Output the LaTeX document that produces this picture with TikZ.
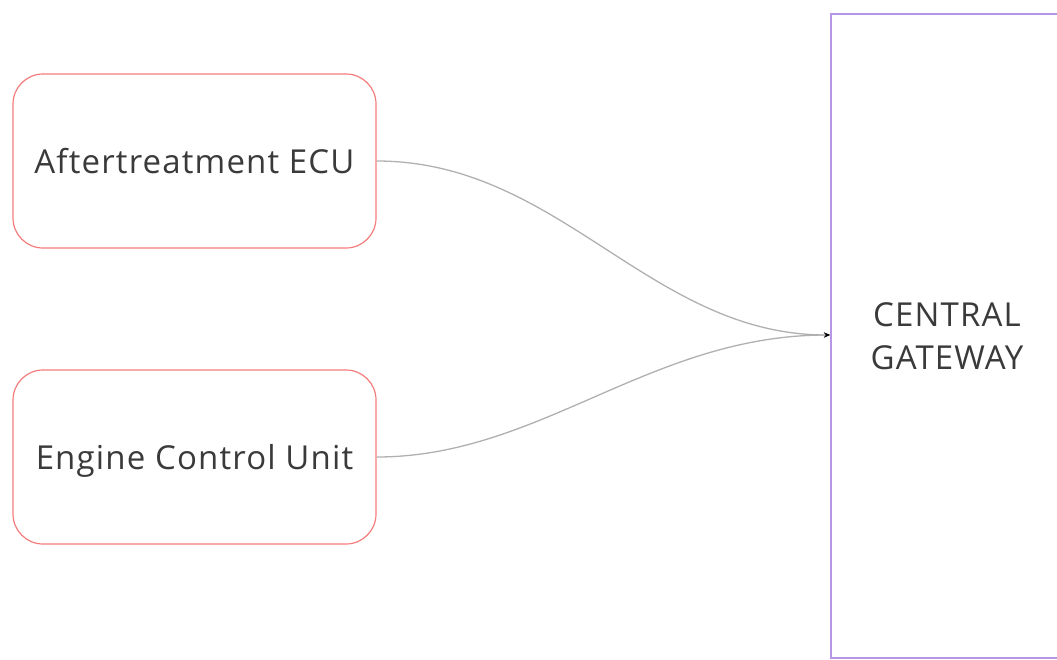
\documentclass[tikz,border=0pt]{standalone}
\usepackage{fontspec}
\setmainfont{Open Sans}[LetterSpace=3.5]
\usetikzlibrary{arrows.meta}
\definecolor{boxred}{HTML}{F47C7C}
\definecolor{gwpurple}{HTML}{B896E6}
\definecolor{txt}{HTML}{3A3A3A}
\definecolor{edge}{HTML}{B0B0B0}
\tikzset{
  ecubox/.style={draw=boxred, line width=1.2pt, rounded corners=30pt, minimum width=363pt, minimum height=174pt, inner sep=0pt, text=txt, text height=24pt, text depth=0pt, font=\fontsize{33}{38}\selectfont},
  gwbox/.style={draw=gwpurple, line width=1.8pt, minimum width=235pt, minimum height=644pt, inner sep=0pt},
  gwtext/.style={text=txt, font=\fontsize{33}{43}\selectfont, align=center},
  link/.style={draw=edge, line width=1.3pt, -{Stealth[length=6pt,width=5pt,black]}}
}
\begin{document}
\begin{tikzpicture}[x=1pt,y=-1pt]
\useasboundingbox (0,0) rectangle (1057,659);
\node[ecubox] (atecu) at (194.5,161) {Aftertreatment ECU};
\node[ecubox] (ecu) at (194.5,457) {Engine Control Unit};
\node[gwbox, anchor=north west] (gw) at (830,13) {};
\node[gwtext] (gwlabel) at (947,336) {CENTRAL\\GATEWAY};
\coordinate (gwin) at (830,335);
\draw[link] (atecu.east) .. controls (560,161) and (650,335) .. (gwin);
\draw[link] (ecu.east) .. controls (540,457) and (650,335) .. (gwin);
\end{tikzpicture}
\end{document}
